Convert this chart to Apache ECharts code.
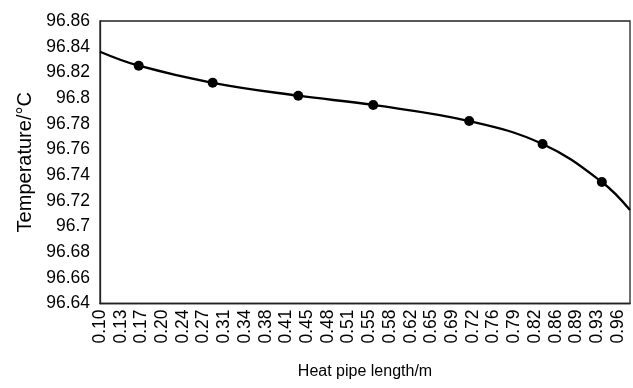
<!DOCTYPE html>
<html>
<head>
<meta charset="utf-8">
<script src="https://cdn.jsdelivr.net/npm/echarts@6/dist/echarts.min.js"></script>
<style>
html,body{margin:0;padding:0;background:#fff;}
#chart{width:633px;height:388px;}
</style>
</head>
<body>
<div id="chart"></div>
<script>
const xTickLabels = ['0.10','0.13','0.17','0.20','0.24','0.27','0.31','0.34','0.38','0.41','0.45','0.48','0.51','0.55','0.58','0.62','0.65','0.69','0.72','0.76','0.79','0.82','0.86','0.89','0.93','0.96'];
const xTickStart = 0.10;
const xTickStep = 0.03451;
const xAxisMax = 0.983;
const yTickLabels = ['96.64','96.66','96.68','96.7','96.72','96.74','96.76','96.78','96.8','96.82','96.84','96.86'];
const heatPipeLength = [0.100, 0.1645, 0.2877, 0.4303, 0.5552, 0.7151, 0.8373, 0.9361, 0.983];
const temperature = [96.8361, 96.8252, 96.8119, 96.8018, 96.7946, 96.7821, 96.7642, 96.7346, 96.7128];
const markerShown = [false, true, true, true, true, true, true, true, false];

const font = '"Liberation Sans", Arial, sans-serif';
const tickValues = xTickLabels.map((_, i) => xTickStart + i * xTickStep);
const seriesData = heatPipeLength.map((x, i) => ({
  value: [x, temperature[i]],
  symbol: markerShown[i] ? 'circle' : 'none'
}));

const chart = echarts.init(document.getElementById('chart'), null, {renderer: 'canvas'});
chart.setOption({
  animation: false,
  backgroundColor: '#fff',
  grid: {left: 100, top: 21, right: 3, bottom: 84.5, show: true, borderColor: '#222', borderWidth: 1.3, backgroundColor: 'transparent'},
  xAxis: {
    type: 'value',
    min: xTickStart,
    max: xAxisMax,
    name: 'Heat pipe length/m',
    nameLocation: 'middle',
    nameGap: 60,
    nameTextStyle: {fontFamily: font, fontSize: 16, color: '#000'},
    axisLine: {show: true, lineStyle: {color: '#222', width: 1.3}},
    axisTick: {show: false},
    splitLine: {show: false},
    axisLabel: {
      customValues: tickValues,
      rotate: 90,
      margin: 6,
      fontFamily: font,
      fontSize: 17.5,
      color: '#000',
      formatter: v => xTickLabels[Math.round((v - xTickStart) / xTickStep)]
    }
  },
  yAxis: {
    type: 'value',
    min: 96.64,
    max: 96.86,
    interval: 0.02,
    name: 'Temperature/°C',
    nameLocation: 'middle',
    nameGap: 64,
    nameTextStyle: {fontFamily: font, fontSize: 20, color: '#000'},
    axisLine: {show: true, lineStyle: {color: '#222', width: 1.3}},
    axisTick: {show: false},
    splitLine: {show: false},
    axisLabel: {
      margin: 10,
      fontFamily: font,
      fontSize: 17.5,
      color: '#000',
      formatter: v => yTickLabels[Math.round((v - 96.64) / 0.02)]
    }
  },
  series: [{
    type: 'line',
    data: seriesData,
    smooth: 0.4,
    symbolSize: 10,
    clip: true,
    lineStyle: {color: '#000', width: 2.3},
    itemStyle: {color: '#000'}
  }]
});
</script>
</body>
</html>
